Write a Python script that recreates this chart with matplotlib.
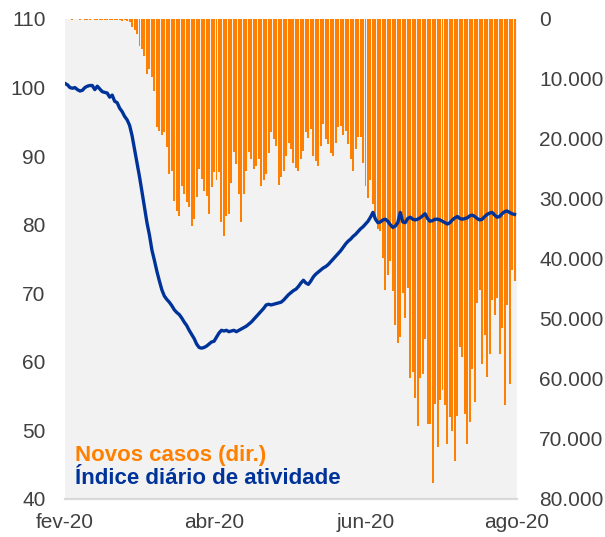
import matplotlib
matplotlib.use("Agg")
import matplotlib.pyplot as plt
import matplotlib.ticker as mticker
import pandas as pd

plt.rcParams['font.family'] = ['Liberation Sans', 'DejaVu Sans']

LARANJA = '#FF8000'
AZUL = '#003399'
CINZA_TEXTO = '#404040'

# indice diario de atividade, a partir de 01/02/2020
indice = [
    100.6, 100.4, 100.0, 99.9, 100.0, 99.7, 99.5, 99.6, 100.0, 100.2,
    100.3, 100.3, 99.7, 100.2, 99.8, 99.4, 99.3, 99.2, 98.6, 98.9,
    98.0, 97.8, 97.0, 96.5, 95.8, 95.3, 94.5, 93.0, 91.0, 89.0,
    87.0, 84.8, 82.5, 80.3, 78.5, 76.3, 74.8, 73.2, 71.8, 70.5,
    69.6, 69.1, 68.7, 68.2, 67.6, 67.2, 66.9, 66.4, 65.8, 65.3,
    64.6, 64.0, 63.4, 62.6, 62.1, 62.0, 62.1, 62.3, 62.6, 62.9,
    63.0, 63.6, 64.2, 64.6, 64.5, 64.6, 64.4, 64.5, 64.6, 64.4,
    64.6, 64.8, 65.0, 65.2, 65.5, 65.8, 66.2, 66.6, 67.0, 67.4,
    67.8, 68.3, 68.4, 68.3, 68.4, 68.5, 68.6, 68.7, 69.0, 69.4,
    69.8, 70.1, 70.4, 70.6, 71.0, 71.5, 71.9, 71.5, 71.3, 71.8,
    72.4, 72.8, 73.1, 73.4, 73.7, 73.9, 74.2, 74.6, 75.0, 75.4,
    75.8, 76.2, 76.7, 77.2, 77.6, 77.9, 78.3, 78.6, 79.0, 79.4,
    79.7, 80.1, 80.5, 81.1, 81.8, 80.8, 80.3, 80.4, 80.7, 80.8,
    80.5, 80.0, 79.6, 79.8, 80.3, 81.8, 80.4, 80.3, 80.9, 81.1,
    80.8, 80.7, 80.8, 81.0, 81.3, 81.6, 80.9, 80.5, 80.6, 80.8,
    80.8, 80.7, 80.5, 80.3, 80.1, 80.3, 80.7, 81.0, 81.2, 80.9,
    80.8, 80.9, 81.0, 81.3, 81.4, 81.2, 80.9, 80.7, 80.8, 81.2,
    81.5, 81.7, 81.8, 81.4, 81.1, 81.2, 81.6, 81.9, 82.0, 81.8,
    81.6, 81.5,
]

# novos casos diarios, a partir de 04/02/2020
casos = [
    140, 0, 0, 130, 0, 150, 170, 160, 0, 140,
    170, 180, 160, 170, 190, 170, 180, 210, 170, 230,
    290, 230,
    340, 570, 1400, 1800, 2500, 4500, 5000, 6200, 9100, 8300,
    9700, 12000, 18000, 18600, 19400, 18800, 21300, 25800, 25300, 30400,
    32000, 32800, 27900, 29100, 30500, 31300, 34500, 33300, 29700, 25000,
    26700, 28700, 29500, 32500, 28000, 25500, 26900, 25500, 33800, 36200,
    32800, 32500, 27400, 22100, 24200, 29100, 33800, 29100, 25300, 22100,
    23300, 25000, 24500, 23300, 27900, 26800, 25800, 22300, 18800, 20000,
    21100, 27600, 26300, 25300, 22800, 20600, 21700, 24000, 24900, 25300,
    23400, 22000, 18800, 19800, 18300, 22800, 23700, 24500, 21100, 17500,
    20000, 20800, 22300, 22800, 20600, 18000, 17800, 19400, 18700, 20800,
    23400, 25300, 21700, 19600, 19600, 24000, 27900, 29800, 26800, 30900,
    33100, 35000, 35400, 39800, 45200, 42700, 40300, 45300, 51000, 54000,
    53000, 45700, 49800, 44900, 59900, 58800, 63200, 67800, 59900, 59100,
    53400, 67500, 67500, 77300, 64200, 71400, 63500, 61900, 64400, 70800,
    66300, 68600, 73600, 66100, 54700, 56300, 65900, 70800, 67100, 58300,
    63800, 47400, 45200, 57500, 52600, 59700, 55900, 46800, 49300, 46500,
    55900, 51500, 64400, 47700, 60900, 41800, 43600,
]

rotulos_x = ['fev-20', 'abr-20', 'jun-20', 'ago-20']
datas_x = pd.to_datetime(['2020-02-01', '2020-04-01', '2020-06-01', '2020-08-01'])
legenda = ['Novos casos (dir.)', 'Índice diário de atividade']

dias_indice = pd.date_range('2020-02-01', periods=len(indice), freq='D')
dias_casos = pd.date_range('2020-02-04', periods=len(casos), freq='D')

fig = plt.figure(figsize=(6.05, 5.37), dpi=100)
ax = fig.add_axes([65 / 605, 1 - 499 / 537, 452 / 605, 480 / 537])
ax2 = ax.twinx()

# barras no eixo da direita (invertido), linha por cima
barras = ax2.bar(dias_casos, casos, width=0.8, color=LARANJA, linewidth=0,
                 antialiased=False)
ax2.set_ylim(80000, 0)
ax2.set_yticks(range(0, 80001, 10000))
ax2.yaxis.set_major_formatter(
    mticker.FuncFormatter(lambda v, p: f'{int(v):,}'.replace(',', '.')))

linha, = ax.plot(dias_indice, indice, color=AZUL, lw=2.4, solid_joinstyle='round')
ax.set_ylim(40, 110)
ax.set_yticks(range(40, 111, 10))
ax.set_xlim(datas_x[0], datas_x[-1])
ax.set_xticks(datas_x)
ax.set_xticklabels(rotulos_x)

ax.set_zorder(ax2.get_zorder() + 1)
ax.patch.set_visible(False)
ax2.patch.set_visible(True)
ax2.patch.set_facecolor('#F2F2F2')

for a in (ax, ax2):
    for lado in ('top', 'left', 'right'):
        a.spines[lado].set_visible(False)
    a.spines['bottom'].set_color('#D9D9D9')
    a.spines['bottom'].set_linewidth(1.5)

ax.tick_params(axis='y', length=0, labelsize=15, labelcolor=CINZA_TEXTO, pad=14)
ax.tick_params(axis='x', length=0, labelsize=15, labelcolor=CINZA_TEXTO, pad=10)
ax2.tick_params(axis='y', length=0, labelsize=15, labelcolor=CINZA_TEXTO, pad=16)

leg = ax.legend([barras, linha], legenda, loc='lower left',
                bbox_to_anchor=(0.003, 0.002), frameon=False,
                handlelength=0, handletextpad=0, labelspacing=0.1,
                borderaxespad=0.0, prop={'weight': 'bold', 'size': 16})
for texto, cor in zip(leg.get_texts(), [LARANJA, AZUL]):
    texto.set_color(cor)
for h in leg.legend_handles:
    h.set_visible(False)

fig.savefig('out.png', dpi=100)
